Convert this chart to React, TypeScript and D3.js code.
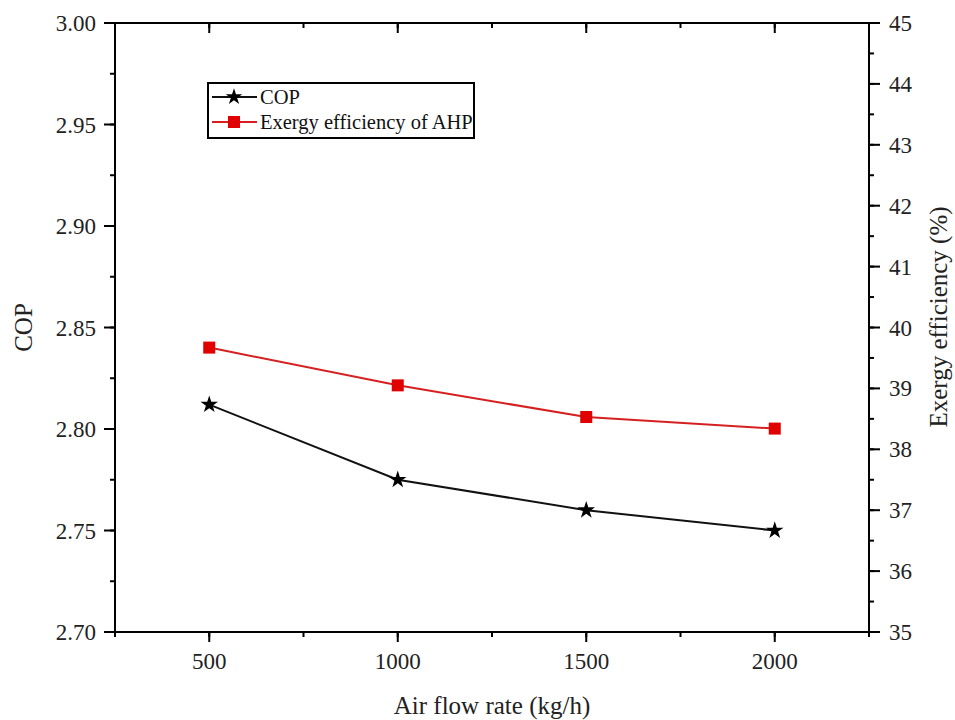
import React from "react";
import * as d3 from "d3";

const flowRates = [500, 1000, 1500, 2000];
const copValues = [2.812, 2.775, 2.76, 2.75];
const exergyValues = [39.67, 39.05, 38.53, 38.34];
const xTicks = [500, 1000, 1500, 2000];
const copTicks = [2.7, 2.75, 2.8, 2.85, 2.9, 2.95, 3.0];
const exTicks = [35, 36, 37, 38, 39, 40, 41, 42, 43, 44, 45];

const W = 955, H = 720;
const L = 115, R = 869, T = 23, B = 632;
const FONT = "'Liberation Serif', 'Times New Roman', serif";

export default function App() {
  const x = d3.scaleLinear().domain([250, 2250]).range([L, R]);
  const yL = d3.scaleLinear().domain([2.7, 3.0]).range([B, T]);
  const yR = d3.scaleLinear().domain([35, 45]).range([B, T]);

  const xMinor = d3.range(250, 2251, 250);
  const copMinor = d3.range(0, 13).map((i) => 2.7 + i * 0.025);
  const exMinor = d3.range(0, 21).map((i) => 35 + i * 0.5);

  const copLine = d3.line<number>().x((_, i) => x(flowRates[i])).y((d) => yL(d))(copValues) || "";
  const exLine = d3.line<number>().x((_, i) => x(flowRates[i])).y((d) => yR(d))(exergyValues) || "";
  const star = d3.symbol().type(d3.symbolStar).size(95)() || "";
  const star2 = d3.symbol().type(d3.symbolStar).size(85)() || "";
  const sq = 12;

  const lx = 208, ly = 83, lw = 266, lh = 55;

  return (
    <svg width={W} height={H} style={{ position: "absolute", left: 0, top: 0, background: "#fff" }} fontFamily={FONT}>
      <rect x={0} y={0} width={W} height={H} fill="#fff" />
      {xMinor.map((v) => (
        <g key={"xm" + v}>
          <line x1={x(v)} x2={x(v)} y1={B} y2={B + 5} stroke="#000" strokeWidth={2} />
          <line x1={x(v)} x2={x(v)} y1={T} y2={T + 5} stroke="#000" strokeWidth={2} />
        </g>
      ))}
      {copMinor.map((v, i) => (
        <line key={"cm" + i} x1={L - 5} x2={L} y1={yL(v)} y2={yL(v)} stroke="#000" strokeWidth={2} />
      ))}
      {exMinor.map((v, i) => (
        <line key={"em" + i} x1={R} x2={R + 5} y1={yR(v)} y2={yR(v)} stroke="#000" strokeWidth={2} />
      ))}
      {xTicks.map((v) => (
        <g key={"x" + v}>
          <line x1={x(v)} x2={x(v)} y1={B} y2={B + 10} stroke="#000" strokeWidth={2} />
          <line x1={x(v)} x2={x(v)} y1={T} y2={T + 10} stroke="#000" strokeWidth={2} />
          <text x={x(v)} y={669} textAnchor="middle" fontSize={23} fill="#222">{v}</text>
        </g>
      ))}
      {copTicks.map((v) => (
        <g key={"c" + v}>
          <line x1={L - 11} x2={L} y1={yL(v)} y2={yL(v)} stroke="#000" strokeWidth={2} />
          <text x={96} y={yL(v) + 8} textAnchor="end" fontSize={23} fill="#222">{v.toFixed(2)}</text>
        </g>
      ))}
      {exTicks.map((v) => (
        <g key={"e" + v}>
          <line x1={R} x2={R + 11} y1={yR(v)} y2={yR(v)} stroke="#000" strokeWidth={2} />
          <text x={889} y={yR(v) + 8} textAnchor="start" fontSize={23} fill="#222">{v}</text>
        </g>
      ))}
      <rect x={L} y={T} width={R - L} height={B - T} fill="none" stroke="#000" strokeWidth={2} />
      <path d={exLine} fill="none" stroke="#d62020" strokeWidth={2} />
      <path d={copLine} fill="none" stroke="#111" strokeWidth={2} />
      {exergyValues.map((v, i) => (
        <rect key={"es" + i} x={x(flowRates[i]) - sq / 2} y={yR(v) - sq / 2} width={sq} height={sq} fill="#e00000" />
      ))}
      {copValues.map((v, i) => (
        <path key={"cs" + i} d={star} transform={`translate(${x(flowRates[i])},${yL(v)})`} fill="#000" />
      ))}
      <rect x={lx} y={ly} width={lw} height={lh} fill="#fff" stroke="#000" strokeWidth={2} />
      <line x1={212} x2={257} y1={97} y2={97} stroke="#111" strokeWidth={2} />
      <path d={star2} transform="translate(234,97)" fill="#000" />
      <text x={260} y={104} fontSize={20.5} fill="#111">COP</text>
      <line x1={212} x2={257} y1={122} y2={122} stroke="#d62020" strokeWidth={2} />
      <rect x={234 - 6} y={122 - 6} width={12} height={12} fill="#e00000" />
      <text x={260} y={129} fontSize={20.5} fill="#111">Exergy efficiency of AHP</text>
      <text x={492} y={714} textAnchor="middle" fontSize={25} fill="#222">Air flow rate (kg/h)</text>
      <text transform={`translate(32,${(T + B) / 2}) rotate(-90)`} textAnchor="middle" fontSize={25} fill="#222">COP</text>
      <text transform={`translate(947,317) rotate(-90)`} textAnchor="middle" fontSize={25} fill="#222">Exergy efficiency (%)</text>
    </svg>
  );
}
